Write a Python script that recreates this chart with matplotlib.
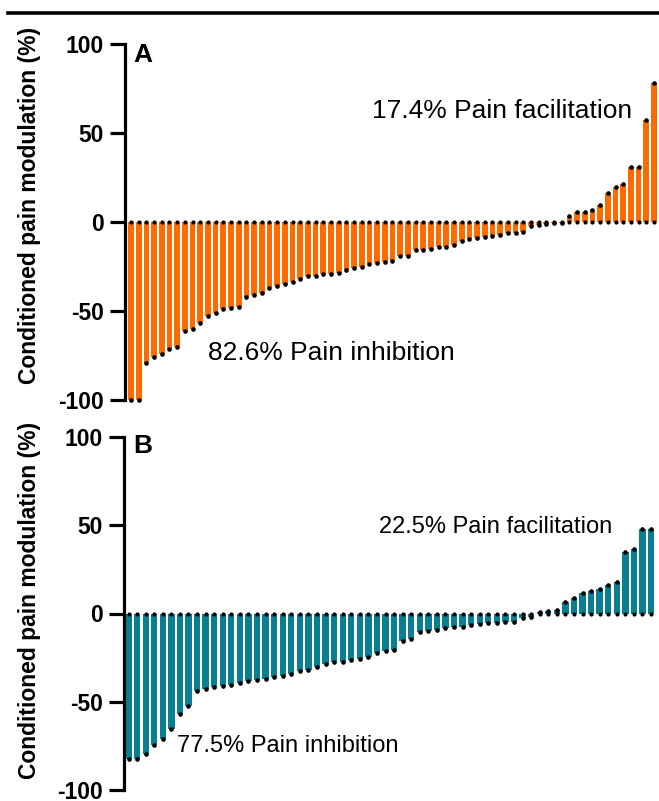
from matplotlib import pyplot as plt
from matplotlib.lines import Line2D
import numpy as np

plt.rcParams['font.family'] = ['Liberation Sans', 'DejaVu Sans']

# conditioned pain modulation per participant, sorted
cpm_a = [-100, -100, -79, -76, -74, -71.5, -70, -61, -60, -57, -52.6, -51, -49, -48.5,
         -47.6, -42, -41, -39.7, -37, -35.8, -34.8, -33.5, -32.2, -30.1, -30.1, -29.4,
         -29, -28.7, -27, -25.8, -25.3,
         -23.8, -23.2, -22.5, -21.7, -18.9, -18.9, -15.7, -15.7, -15.3, -14.2, -14, -12.9,
         -10.5, -9.7, -9, -8.6, -7.7, -7.3,
         -6.4, -5.9, -5.6, -2.2, -1.7, -1.3, -0.6, -0.3,
         3.4, 5.8, 5.8, 6.7, 9.6, 16.1, 19.9, 21.2, 30.7, 31.1, 57.3, 78.3]
cpm_b = [-82.4, -82.4, -79.6, -74.5, -71.2, -65.5, -56.7, -52.4, -44, -42.7, -41.7, -40.8,
         -40.6, -39.3, -38.4,
         -37.5, -36.9, -36.1, -35.2, -34.2, -32.8, -31.9, -30.3, -28.7, -27.5, -27.2, -26.2,
         -25.7, -24.7, -22.5, -21.5, -20.6, -15.6, -14.4, -10.3, -9.7, -9.4, -8.4, -7.5, -7.5,
         -6.6, -6.0, -5.5, -5.2, -5.0, -4.6, -2.6, -1.9,
         0.9, 1.3, 1.9, 6.6, 8.8, 11.6, 12.5, 14, 16.3, 17.8, 34.7, 36.5, 47.8, 48.1]
yticks = [-100, -50, 0, 50, 100]

W, H = 659, 801
fig = plt.figure(figsize=(W / 100, H / 100), dpi=100)

# rule across the top of the figure
fig.add_artist(Line2D([8 / W, 1], [1 - 13 / H, 1 - 13 / H], color='black', lw=2.6))


def panel(rect, vals, color, xlim, letter, letter_y, inhib_txt, inhib_xy, facil_txt, facil_xy,
          ylab_y, note_size):
    ax = fig.add_axes(rect)
    x = np.arange(len(vals))
    ax.bar(x, vals, width=0.74, color=color, zorder=1)
    ax.scatter(x, np.zeros(len(vals)), s=9, color='black', zorder=3, clip_on=False, lw=0)
    ax.scatter(x, vals, s=11, color='black', zorder=3, clip_on=False, lw=0)
    ax.set_xlim(xlim)
    ax.set_ylim(-100, 100)
    ax.set_yticks(yticks)
    ax.set_yticklabels([str(t) for t in yticks], fontsize=16.5, fontweight='bold')
    ax.set_xticks([])
    for s in ['top', 'right', 'bottom']:
        ax.spines[s].set_visible(False)
    ax.spines['left'].set_linewidth(2.3)
    ax.tick_params(axis='y', length=11, width=2.3, pad=4)
    ax.patch.set_alpha(0)

    fig.text(133 / W, 1 - letter_y / H, letter, fontsize=19, fontweight='bold', va='baseline')
    fig.text(inhib_xy[0] / W, 1 - inhib_xy[1] / H, inhib_txt, fontsize=note_size, va='center', ha='left')
    fig.text(facil_xy[0] / W, 1 - facil_xy[1] / H, facil_txt, fontsize=note_size, va='center', ha='right')
    fig.text(30 / W, 1 - ylab_y / H, 'Conditioned pain modulation (%)', rotation=90,
             fontsize=16.5, fontweight='bold', va='center', ha='center')
    return ax


panel([125 / W, 1 - 400 / H, 1 - 125 / W, 356 / H], cpm_a, '#FF6A00', (-0.78, 68.65),
      'A', 62, '82.6% Pain inhibition', (208, 353), '17.4% Pain facilitation', (632, 111), 205, 19)
panel([124 / W, 1 - 790 / H, 1 - 124 / W, 353 / H], cpm_b, '#0B7F92', (-0.53, 61.93),
      'B', 453, '77.5% Pain inhibition', (177, 746), '22.5% Pain facilitation', (612, 527), 600, 17)

plt.savefig('out.png', dpi=100)
